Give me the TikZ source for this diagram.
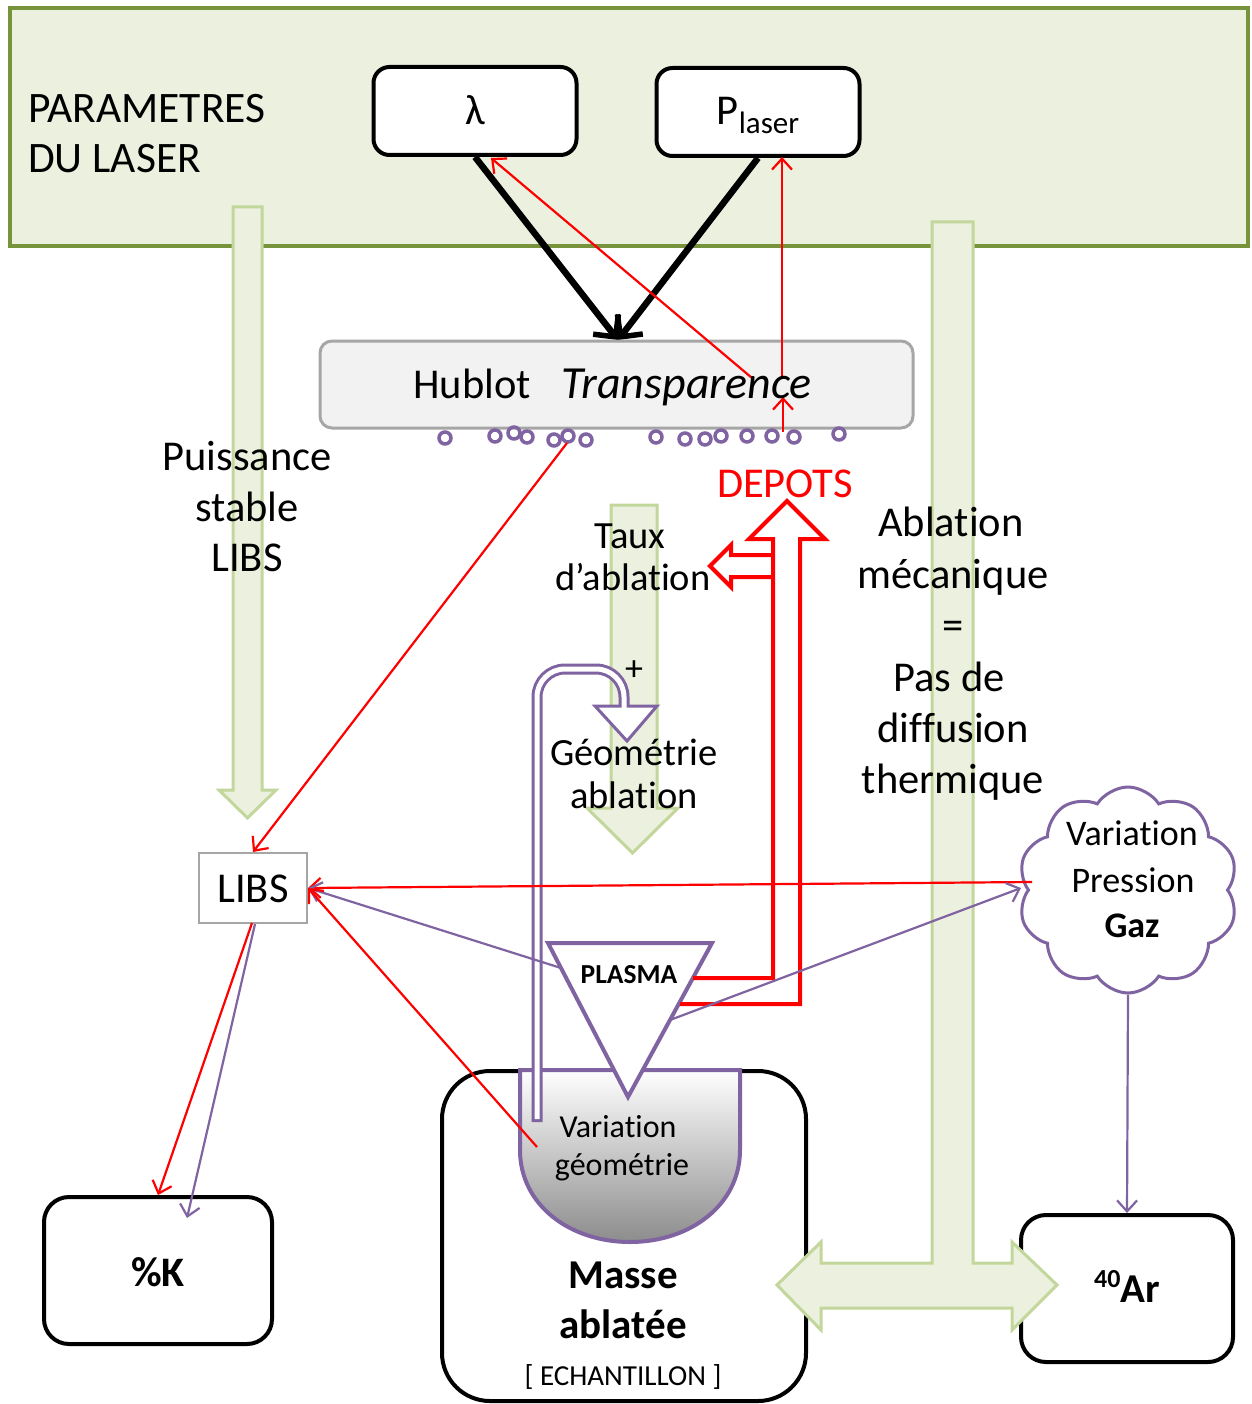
\documentclass[tikz,border=0pt]{standalone}
\usepackage{fontspec}
\setmainfont{Carlito}[Ligatures={NoCommon,NoRequired,NoContextual},RawFeature={-liga;-clig;-rlig;-calt;-dlig}]
\usetikzlibrary{arrows.meta,shapes.symbols,shapes.geometric}
\definecolor{gfill}{HTML}{EBF1DE}
\definecolor{gline}{HTML}{77933C}
\definecolor{gar}{HTML}{C3D69B}
\definecolor{pur}{HTML}{8064A2}
\definecolor{hfill}{HTML}{F2F2F2}
\definecolor{hline}{HTML}{A6A6A6}
\newcommand{\myfs}[1]{\fontsize{#1}{#1}\selectfont}
\newcommand{\tii}{t\kern0pt i}
\begin{document}
\begin{tikzpicture}[x=1pt,y=-1pt,
  txt/.style={inner sep=0pt, font=\myfs{42.5}, anchor=base},
  rbox/.style={draw=black, line width=4pt, fill=white, inner sep=0pt},
  garrow/.style={fill=gfill, draw=gar, line width=3pt, line join=miter},
  redarr/.style={draw=red, line width=2.2pt, -{Straight Barb[length=11pt,width=20pt,line width=2.2pt]}},
  purarr/.style={draw=pur, line width=2.2pt, -{Straight Barb[length=11pt,width=20pt,line width=2.2pt]}},
  blkarr/.style={draw=black, line width=6.5pt, -{Straight Barb[length=16pt,width=32pt,line width=5.5pt]}},
  dotc/.style={circle, draw=pur, line width=3.5pt, minimum size=12pt, inner sep=0pt}
]
\useasboundingbox (0,0) rectangle (1251,1404);
\fill[white] (0,0) rectangle (1251,1404);

% top laser rectangle
\node[draw=gline, fill=gfill, line width=4pt, minimum width=1238pt, minimum height=238pt, inner sep=0pt] (laser) at (629,127) {};

% green arrows
\draw[garrow] (233,207) -- (262,207) -- (262,790) -- (276,790) -- (247.5,818) -- (219,790) -- (233,790) -- cycle;
\draw[garrow] (611,505) -- (657,505) -- (657,808) -- (678,808) -- (632.5,853) -- (587,808) -- (611,808) -- cycle;

% lambda and P boxes
\node[rbox, rounded corners=16pt, minimum width=203pt, minimum height=88pt] (lam) at (475,111) {};
\node[rbox, rounded corners=16pt, minimum width=203pt, minimum height=88pt] (pl) at (758,112) {};

% black arrows
\coordinate (tipb) at (618,340);
\draw[blkarr] (lam.south) -- (tipb);
\draw[blkarr] (pl.south) -- (tipb);

% Hublot
\node[draw=hline, fill=hfill, line width=3pt, rounded corners=12pt, minimum width=593pt, minimum height=87pt, inner sep=0pt] (hub) at (616.5,384.5) {};

% dots
\foreach \x/\y [count=\i] in {445/438, 495/436, 514/433, 527/437, 554/440, 568/436, 586/440, 656/437, 685/439, 705/439, 721/436, 747/436, 772/436, 794/437, 839/434}
  \node[dotc] (d\i) at (\x,\y) {};

% bottom boxes
\node[rbox, rounded corners=48pt, minimum width=364pt, minimum height=330pt] (masse) at (624,1236) {};
\node[rbox, rounded corners=25pt, minimum width=228pt, minimum height=147pt] (pk) at (158,1270.5) {};
\node[rbox, rounded corners=25pt, minimum width=212pt, minimum height=147pt] (ar) at (1127,1288.5) {};

% green T arrow
\draw[garrow] (932,222) -- (973,222) -- (973,1263) -- (1012,1263) -- (1012,1242) -- (1057,1285) -- (1012,1330) -- (1012,1308) -- (821,1308) -- (821,1330) -- (777,1285) -- (821,1242) -- (821,1263) -- (932,1263) -- cycle;

% bowl
\draw[pur, line width=4pt, top color=white, bottom color=black!45] (520,1070) -- (520,1150) .. controls (520,1205) and (570,1242) .. (630,1242) .. controls (690,1242) and (740,1205) .. (740,1150) -- (740,1070) -- cycle;

% plasma triangle
\draw[pur, line width=4pt, fill=white, line join=miter] (548,943) -- (712,943) -- (628,1097) -- cycle;

% purple loop arrow
\draw[pur, line width=3pt, fill=white, line join=miter] (595,706) -- (657,706) -- (627,741) -- cycle;
\draw[pur, line width=11pt, rounded corners=28pt] (537,1122) -- (537,669) -- (624,669) -- (624,706);
\draw[white, line width=5pt, rounded corners=28pt] (537,1119) -- (537,669) -- (624,669) -- (624,710);

% red pipe
\draw[red, line width=4pt, line join=miter] (680,1004) -- (800,1004) -- (800,539) -- (825,539) -- (787,501) -- (749,539) -- (773,539) -- (773,978) -- (693,978);
\draw[red, line width=4pt, line join=miter] (773,555) -- (731,555) -- (731,545) -- (710,566) -- (731,587) -- (731,577) -- (773,577);

% cloud
\node[cloud, draw=pur, fill=white, line width=3pt, cloud puffs=10, cloud puff arc=115, aspect=1.07, minimum width=220pt, minimum height=206pt, inner sep=0pt] (cloud) at (1128,890) {};

% LIBS box
\node[draw=hline, fill=white, line width=2pt, minimum width=108pt, minimum height=70pt, inner sep=0pt] (libs) at (253,888) {};

% connectors
\coordinate (hubA) at (752,378);
\coordinate (lamT) at (491,158);
\coordinate (hubB) at (782,378);
\coordinate (plT) at (782,157);
\coordinate (dotS) at (783,432);
\coordinate (dotT) at (783,397);
\draw[redarr] (hubA) -- (lamT);
\draw[redarr] (hubB) -- (plT);
\draw[redarr] (dotS) -- (dotT);
\coordinate (dotpt) at (567,443);
\draw[redarr] (dotpt) -- (libs.north);
\coordinate (cloudin) at (1032,882);
\draw[redarr] (cloudin) -- (libs.east);
\coordinate (plL) at (561,968);
\draw[purarr] (plL) -- (libs.east);
\coordinate (bowlpt) at (537,1147);
\draw[redarr] (bowlpt) -- (libs.east);
\coordinate (plR) at (670,1020);
\coordinate (cloudL) at (1021,888);
\draw[purarr] (plR) -- (cloudL);
\coordinate (libsA) at (252,923);
\coordinate (libsB) at (255,924);
\coordinate (kA) at (158,1195);
\coordinate (kB) at (187,1218);
\draw[redarr] (libsA) -- (kA);
\draw[purarr] (libsB) -- (kB);
\draw[purarr] (cloud.south) -- (ar.north);

% texts
\node[txt, font=\myfs{43.5}, anchor=base west] (par1) at (28,123) {PARAMETRES};
\node[txt, font=\myfs{43.5}, anchor=base west] (par2) at (28,173) {DU LASER};
\node[txt] (lamt) at (475,125) {λ};
\node[txt] (plt) at (758,125) {P{\myfs{31}\raisebox{-9pt}{laser}}};
\node[txt, anchor=base east] (hubt1) at (531,398) {Hublot};
\node[txt, font=\myfs{46}\itshape, anchor=base west] (hubt2) at (561,398) {Transparence};
\node[txt] (pu1) at (247,470) {Puissance};
\node[txt] (pu2) at (247,521) {stable};
\node[txt] (pu3) at (247,571) {LIBS};
\node[txt, text=red] (dep) at (785,497) {DEPOTS};
\node[txt, font=\myfs{38.5}] (ta1) at (630,548) {Taux};
\node[txt, font=\myfs{38.5}] (ta2) at (633,590) {d’abla\tii on};
\node[txt, font=\myfs{36}] (plus) at (634,680) {+};
\node[txt, font=\myfs{38.5}] (ge1) at (634,765) {Géométrie};
\node[txt, font=\myfs{38.5}] (ge2) at (634,808) {abla\tii on};
\node[txt] (ab1) at (951,536) {Abla\tii on};
\node[txt] (ab2) at (953,588) {mécanique};
\node[txt] (ab3) at (953,639) {=};
\node[txt] (ab4) at (949,691) {Pas de};
\node[txt] (ab5) at (953,742) {diffusion};
\node[txt] (ab6) at (953,793) {thermique};
\node[txt, font=\myfs{36}] (cl1) at (1132,845) {Varia\tii on};
\node[txt, font=\myfs{36}] (cl2) at (1133,892) {Pression};
\node[txt, font=\myfs{36}\bfseries] (cl3) at (1132,937) {Gaz};
\node[txt] (libst) at (253,902) {LIBS};
\node[txt, font=\myfs{27.5}\bfseries] (plas) at (629,983) {PLASMA};
\node[txt, font=\myfs{32}] (vg1) at (618,1137) {Varia\tii on};
\node[txt, font=\myfs{32}] (vg2) at (622,1175) {géométrie};
\node[txt, font=\myfs{41}\bfseries] (ma1) at (623,1288) {Masse};
\node[txt, font=\myfs{41}\bfseries] (ma2) at (623,1338) {ablatée};
\node[txt, font=\myfs{29}] (ma3) at (623,1385) {[ ECHANTILLON ]};
\node[txt, font=\myfs{42}\bfseries] (pkt) at (158,1286) {\%K};
\node[txt, font=\myfs{41}\bfseries] (art) at (1127,1302) {\raisebox{15pt}{\myfs{26}40}Ar};
\end{tikzpicture}
\end{document}
